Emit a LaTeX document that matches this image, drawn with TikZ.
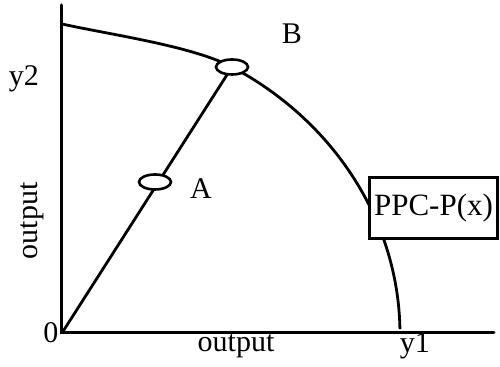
\documentclass[tikz,border=0pt]{standalone}
\usepackage{fontspec}
\setmainfont{Liberation Serif}
\usetikzlibrary{shapes.geometric,backgrounds}
\tikzset{
  axis/.style={line width=1.5pt, line cap=round},
  ppc/.style={line width=1.4pt},
  point/.style={draw, ellipse, fill=white, line width=1.3pt, inner sep=0pt, minimum width=16pt, minimum height=7.5pt},
  lbl/.style={font=\fontsize{15}{18}\selectfont, inner sep=0pt},
  tag/.style={draw, fill=white, line width=1.5pt, minimum width=64pt, minimum height=30.5pt, inner sep=0pt, font=\fontsize{15.5}{18}\selectfont}
}
\begin{document}
\begin{tikzpicture}[x=0.5pt, y=-0.5pt]
        \useasboundingbox (0,0) rectangle (500,367);
        % axes
        \coordinate (o) at (62,333);
        \coordinate (ytop) at (62,5);
        \coordinate (xend) at (494,333);
        \draw[axis] (ytop) -- (o) -- (xend);
        % frontier
        \coordinate (c0) at (62,24);
        \coordinate (c1) at (232,67);
        \draw[ppc] (c0) .. controls (112,35) and (192,46) .. (c1)
          arc[start angle=-59.8, end angle=-0.9, x radius=338, y radius=309];
        \node[tag] (box) at (433.5,208.5) {PPC-P(x)};
        % points on the ray
        \node[point] (pa) at (155,182) {};
        \node[point] (pb) at (c1) {};
        \begin{scope}[on background layer]
          \draw[ppc] (o) -- (pb.center);
        \end{scope}
        % labels
        \node[lbl] (la) at (201,189) {A};
        \node[lbl] (lb) at (292,34) {B};
        \node[lbl] (ly2) at (24,79) {y2};
        \node[lbl] (ly1) at (415,346) {y1};
        \node[lbl] (lo) at (51,333) {0};
        \node[lbl] (lx) at (236,346) {output};
        \node[lbl, rotate=90] (ly) at (32,221) {output};
      \end{tikzpicture}
\end{document}
